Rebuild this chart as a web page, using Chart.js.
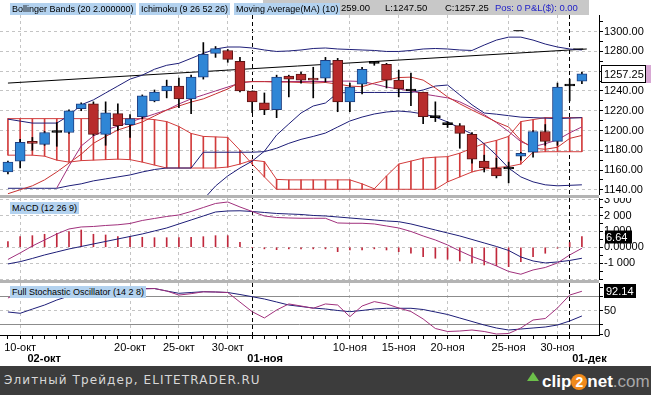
<!DOCTYPE html>
<html>
<head>
<meta charset="utf-8">
<script src="https://cdn.jsdelivr.net/npm/chart.js@4.4.0/dist/chart.umd.min.js"></script>
<style>
body { margin: 0; width: 651px; height: 395px; overflow: hidden; position: relative; background: #fff; font-family: "Liberation Sans", Arial, sans-serif; }
.pane { position: absolute; left: 0; width: 651px; }
.sep { position: absolute; left: 0; width: 599px; height: 3px; background: #b4b4b4; }
.lbl { position: absolute; height: 12px; line-height: 12px; font-size: 9px; background: #b3d2ef; color: #000; padding: 0 2px; white-space: nowrap; }
#info { position: absolute; left: 263px; top: 0; width: 326px; height: 15px; background: #c8c8c8; font-size: 9.5px; line-height: 16px; white-space: nowrap; }
#footer { position: absolute; left: 0; top: 366px; width: 651px; height: 29px; background: #3c3c3c; }
#footer .ft { position: absolute; left: 4px; top: 7px; font-family: "DejaVu Sans", sans-serif; font-size: 12px; letter-spacing: 1.1px; color: #d8d8d8; }
#logo { position: absolute; left: 527px; top: 6px; height: 18px; font-family: "Liberation Sans", Arial, sans-serif; font-weight: bold; font-size: 17px; line-height: 18px; color: #fff; white-space: nowrap; }
#logo .arr { display: inline-block; width: 0; height: 0; border-left: 6px solid transparent; border-right: 6px solid transparent; border-bottom: 9px solid #6cc04a; vertical-align: 6px; margin-right: 3px; }
#logo .two { display: inline-block; width: 16px; height: 16px; border-radius: 8px; background: #f08a1c; text-align: center; line-height: 16px; font-size: 14px; }
#logo .com { color: #a8a8a8; font-weight: normal; }
</style>
</head>
<body>
<div class="pane" style="top:0;height:195px"><canvas id="priceChart"></canvas></div>
<div class="sep" style="top:195px"></div>
<div class="pane" style="top:198px;height:82px"><canvas id="macdChart"></canvas></div>
<div class="sep" style="top:280px"></div>
<div class="pane" style="top:283px;height:83px"><canvas id="stochChart"></canvas></div>

<div id="info"><span style="position:absolute;left:78px">259.00</span><span style="position:absolute;left:122px">L:1247.50</span><span style="position:absolute;left:182px">C:1257.25</span><span style="position:absolute;left:232px;color:#2323c8">Pos: 0 P&amp;L($): 0.00</span></div>
<div class="lbl" style="left:10px;top:3px">Bollinger Bands (20 2.000000)</div>
<div class="lbl" style="left:139px;top:3px">Ichimoku (9 26 52 26)</div>
<div class="lbl" style="left:234px;top:3px">Moving Average(MA) (10)</div>
<div class="lbl" style="left:10px;top:202px">MACD (12 26 9)</div>
<div class="lbl" style="left:10px;top:286px">Full Stochastic Oscillator (14 2 8)</div>

<div id="footer">
  <span class="ft">Элитный Трейдер, ELITETRADER.RU</span>
  <span id="logo"><span class="arr"></span>clip<span class="two">2</span>net<span class="com">.com</span></span>
</div>

<script>
// --- свечи (индекс 0 = 09-окт, по одной свече на торговый день, включая воскресные сессии)
const opens  = [1158,1169,1189,1186,1199,1198,1222,1227,1196,1217,1206,1214,1230,1240,1245,1232,1254,1278,1281,1270,1240,1228,1221,1255,1257,1253,1253,1271,1229,1247,1268,1267,1251,1241,1239,1214,1207,1205,1196,1169,1162,1162,1174,1178,1199,1189,1245,1250];
const highs  = [1169,1191,1193,1199,1208,1221,1228,1229,1229,1227,1216,1236,1241,1251,1253,1256,1289,1285,1282,1274,1240,1238,1256,1256,1259,1264,1274,1273,1248,1264,1270,1268,1261,1258,1239,1229,1209,1207,1198,1175,1172,1168,1178,1200,1206,1248,1252,1259];
const lows   = [1156,1162,1180,1185,1184,1197,1220,1195,1185,1200,1193,1212,1229,1233,1223,1217,1252,1274,1269,1239,1218,1216,1213,1234,1248,1233,1249,1219,1219,1237,1266,1243,1234,1225,1207,1209,1203,1182,1167,1158,1152,1147,1170,1173,1185,1185,1230,1247.5];
const closes = [1168,1188,1187,1198,1198,1220,1227,1196,1218,1205,1212,1235,1239,1245,1232,1254,1277,1283,1272,1240,1229,1221,1254,1252,1251,1251,1271,1229,1244,1262,1268,1251,1242,1240,1214,1213,1206,1197,1171,1162,1154,1161,1177,1199,1189,1244,1245,1257.25];

// --- индикаторы на графике цены
const bbUpper = [1211.5,1209.5,1207.5,1207.5,1207.5,1215,1226,1231,1238,1245,1252,1256,1262,1266,1268,1273,1278,1282.5,1284.5,1284.5,1283.5,1281.5,1280,1280.5,1281.5,1283,1283.5,1282.5,1282,1281.5,1281,1280,1280,1281,1282.5,1283,1282.5,1281.5,1281,1286.5,1291.5,1294.5,1294.5,1291.5,1287.5,1284.5,1282.5,1281.5];
const bbLower = [1141.5,1141.5,1141.5,1141.5,1141.5,1144,1146,1149,1151,1153,1155,1158,1160.5,1162,1162,1162,1178,1178,1178,1178,1178,1178.6,1182,1187,1191,1194,1197.4,1203.5,1209.6,1213.6,1216.7,1218.7,1219.7,1218.7,1216.7,1213.6,1208.6,1202.5,1196.5,1186.5,1175,1162,1153,1148,1145,1144,1144.5,1145];
const kijun = [null,null,null,null,null,null,null,null,null,null,null,null,null,null,null,null,1130,1143.8,1154,1162,1169,1179,1195.4,1206.6,1217.7,1224.8,1227.8,1238,1238.5,1238.5,1238.5,1238.5,1238.5,1238.5,1241,1245,1246,1236,1226,1217.7,1216.5,1215,1213.5,1213,1212.5,1212,1212.5,1213];
const tenkan = [null,null,null,null,1141.8,1164,1184.3,1194.4,1200.5,1204.5,1208.6,1212.6,1216.7,1220.7,1226.8,1232,1236,1240,1244,1248,1249.6,1249.6,1249.6,1249.6,1249.6,1249.6,1249.6,1250,1250,1249.6,1247,1244,1242,1240,1237,1235,1233,1229,1223,1216,1208,1199,1188.7,1183.6,1186.6,1190.6,1197.6,1203.6];
const ma10 = [1136,1140,1144,1150,1158,1167,1176,1187,1194,1200.5,1204.5,1208.6,1214.7,1220.7,1224.8,1228.8,1232,1237,1242,1249,1249.4,1249.4,1249,1249,1248.6,1248,1248.6,1247,1245,1244.3,1248,1251,1253.6,1254,1251,1243,1234,1227,1220.7,1214.7,1208.6,1203.5,1190,1182,1181,1183,1192,1195];
const kumoA = [1212,1212,1212,1212,1212,1212,1212,1212,1212,1212,1212,1212,1211,1209,1204,1197,1194,1193.5,1193,1180,1166,1153,1140.5,1140.5,1140.5,1140.5,1140.5,1140.5,1140.5,1140.5,1140.5,1140.5,1140.5,1140.5,1140.5,1140.5,1148,1153,1158,1161,1162.5,1163.5,1166,1178,1178.5,1178.5,1178.5,1178.5];
const kumoB = [1175,1175,1175,1174,1170,1168,1169.5,1170,1170.5,1171,1170.5,1168,1165,1162,1162,1162,1162,1162,1163,1166,1170,1168.5,1150.5,1150,1150,1150,1150,1150,1150,1146,1141,1154,1166,1169,1172,1173,1173.5,1177,1182,1187,1190,1194,1209,1211,1213,1213,1213,1213];
const trendX = [0, 47.4];
const trendY = [1248, 1282.5];
const markX  = [41.8, 46.7];
const markY  = [1301, 1282.5];

// --- MACD (12 26 9)
const macdLine   = [-767,-358,82,459,836,1151,1277,1308,1371,1415,1497,1686,1812,1937,2032,2252,2503,2755,2849,2535,2252,1969,1874,1843,1824,1824,1824,1528,1510,1510,1466,1340,1214,994,711,459,145,-233,-579,-862,-1176,-1522,-1698,-1428,-1271,-988,-484,-63];
const macdSignal = [-1050,-906,-704,-484,-296,-107,50,208,365,522,679,837,1025,1214,1466,1717,1969,2220,2283,2296,2252,2189,2126,2095,2063,2000,1969,1906,1843,1780,1717,1654,1610,1466,1277,1088,899,711,491,270,50,-201,-610,-862,-988,-925,-830,-692];
const macdHist   = [350,667,730,818,880,981,1088,818,774,667,667,629,603,603,603,629,667,730,730,314,-20,-100,-150,-100,-100,-100,-100,-276,-170,-170,-100,-170,-276,-377,-591,-692,-755,-862,-1006,-1113,-1157,-1220,-906,-591,-377,-60,300,667];

// --- Full Stochastic (14 2 8)
const stochK = [77.7,90,88,92,95,97,96,92,94,95,96,97,98,92.7,84,87,91,90.6,89.5,69,48.4,35,52,65,60.6,55.7,65,62.7,37.7,60.6,70,65,56.3,48.8,32.8,12.4,6,7,9.2,6,0.6,1.7,13.5,30.6,33.8,56.3,84,92.14];
const stochD = [47.8,45,54,62.7,73.4,82,88,92.7,94.9,96,97,98,98,92.7,87.8,89.5,91.2,90.6,89.5,85.2,80.5,75.6,69.2,62.7,59.5,56.3,54.2,51,48.4,51,54.2,55.7,55.7,55.7,53.1,47.8,42.4,34.9,27.4,19.9,13.5,9.2,11.3,13.5,15.6,19.9,28.5,39.2];
const stochLevels = [20, 80];

// --- подписи оси времени
const tickIdx  = [1, 10, 14, 18, 28, 32, 36, 41, 45];
const tickText = ['10-окт', '20-окт', '25-окт', '30-окт', '10-ноя', '15-ноя', '20-ноя', '25-ноя', '30-ноя'];
const monthIdx = [20, 46];
const boldAt   = [1.6, 19.6, 46.2];
const boldText = ['02-окт', '01-ноя', '01-дек'];
const priceTicks = [1140,1150,1160,1170,1180,1190,1200,1210,1220,1230,1240,1250,1260,1270,1280,1290,1300,1310];
const macdTicks  = [-2000,-1500,-1000,-500,0,500,1000,1500,2000,2500,3000];
const stochTicks = [0, 20, 50, 80, 100];

const FONT = '"Liberation Sans", Arial, sans-serif';
Chart.defaults.font.family = FONT;
Chart.defaults.color = '#000';

const X_MIN = -0.65, X_MAX = 48.4;
const NAVY = '#1e1e78', RED = '#c83232', PURPLE = '#a0307c', KUMO = '#d23c3c';
const GRID = '#c4c4c4';

const pts = arr => arr.map((v, i) => v == null ? null : { x: i, y: v }).filter(p => p);

function gridColor(c) {
    const v = c.tick ? c.tick.value : null;
    if (monthIdx.includes(v)) return '#000';
    if (tickIdx.includes(v)) return GRID;
    return 'rgba(0,0,0,0)';
}

function xAxis(showLabels) {
    return {
        type: 'linear', min: X_MIN, max: X_MAX, offset: false,
        afterBuildTicks: s => { s.ticks = closes.map((c, i) => ({ value: i })); },
        afterFit: s => { s.height = showLabels ? 17 : 0; s.paddingLeft = 0; s.paddingRight = 0; },
        grid: { offset: false, color: gridColor, drawTicks: showLabels, tickLength: 4, tickColor: '#000' },
        border: { display: showLabels, color: '#000', dash: c => (c.tick && monthIdx.includes(c.tick.value)) ? [4, 3] : [3, 3] },
        ticks: {
            display: showLabels, autoSkip: false, maxRotation: 0, padding: 2,
            font: { size: 11 },
            callback: v => { const k = tickIdx.indexOf(v); return k >= 0 ? tickText[k] : ''; }
        }
    };
}

function yAxis(min, max, ticks, labelFn, gridFn, dashFn) {
    return {
        position: 'right', min: min, max: max,
        afterBuildTicks: s => { s.ticks = ticks.map(v => ({ value: v })); },
        afterFit: s => { s.width = 52; s.paddingTop = 0; s.paddingBottom = 0; },
        grid: { color: gridFn, tickColor: '#000', tickLength: 4 },
        border: { color: '#000', dash: dashFn || [3, 3] },
        ticks: { font: { size: 11 }, padding: 1, autoSkip: false, callback: labelFn }
    };
}

// ярлыки значений справа от оси
const tagPlugin = {
    id: 'tag',
    afterDraw(chart, args, opts) {
        const ctx = chart.ctx, ys = chart.scales.y;
        (opts.items || []).forEach(t => {
            const y = Math.round(ys.getPixelForValue(t.value));
            const x = chart.chartArea.right + t.dx;
            ctx.save();
            ctx.fillStyle = t.bg;
            ctx.fillRect(x, y - t.h / 2, t.w, t.h);
            if (t.border) {
                ctx.strokeStyle = t.border; ctx.lineWidth = 1;
                ctx.strokeRect(x + 0.5, y - t.h / 2 + 0.5, t.w - 1, t.h - 1);
            }
            if (t.text) {
                ctx.fillStyle = t.fg; ctx.font = t.font; ctx.textBaseline = 'middle'; ctx.textAlign = 'left';
                ctx.fillText(t.text, x + t.tx, y + 1);
            }
            ctx.restore();
        });
    }
};

function baseOptions(scales, tags, padTop) {
    return {
        responsive: true, maintainAspectRatio: false, animation: false, events: [],
        layout: { padding: { top: padTop || 0, left: 0, right: 0, bottom: 0 }, autoPadding: false },
        scales: scales,
        plugins: { legend: { display: false }, tooltip: { enabled: false }, tag: { items: tags } }
    };
}

function line(arr, color, order, extra) {
    return Object.assign({ type: 'line', data: pts(arr), borderColor: color, borderWidth: 1, pointRadius: 0, tension: 0, fill: false, order: order }, extra || {});
}

// --- график цены
const bodyColor = closes.map((c, i) => Math.abs(c - opens[i]) <= 1 ? '#000' : (c > opens[i] ? '#2f86d6' : '#b82c2c'));
const bodyEdge  = closes.map((c, i) => Math.abs(c - opens[i]) <= 1 ? '#000' : (c > opens[i] ? '#1f3f80' : '#5a1414'));

const priceCtx = document.getElementById('priceChart');
new Chart(priceCtx, {
    type: 'bar',
    data: {
        datasets: [
            { type: 'bar', data: closes.map((c, i) => ({ x: i, y: [opens[i], c] })), backgroundColor: bodyColor, borderColor: bodyEdge, borderWidth: 1, borderSkipped: false, barThickness: 10, minBarLength: 2, grouped: false, order: 1 },
            { type: 'bar', data: closes.map((c, i) => ({ x: i, y: [lows[i], highs[i]] })), backgroundColor: '#000', borderWidth: 0, barThickness: 1, grouped: false, order: 2 },
            line(ma10, RED, 3),
            line(tenkan, PURPLE, 4),
            line(kijun, NAVY, 5),
            line(bbUpper, NAVY, 6),
            line(bbLower, NAVY, 7),
            { type: 'line', data: trendX.map((x, k) => ({ x: x, y: trendY[k] })), borderColor: '#000', borderWidth: 1, pointRadius: 0, order: 8 },
            { type: 'line', data: markX.map((x, k) => ({ x: x, y: markY[k] })), showLine: false, pointStyle: 'line', pointRadius: 5, pointBorderColor: '#000', pointBorderWidth: 1, order: 0 },
            line(kumoA, KUMO, 9),
            line(kumoB, KUMO, 10),
            { type: 'bar', data: kumoA.map((a, i) => ({ x: i, y: [a, kumoB[i]] })), backgroundColor: KUMO, borderWidth: 0, barThickness: 1, grouped: false, order: 11 }
        ]
    },
    options: baseOptions({
        x: xAxis(false),
        y: yAxis(1134.7, 1316.9, priceTicks, v => v % 20 === 0 ? v.toFixed(2) : '',
            c => (c.tick && c.tick.value % 20 === 0) ? GRID : 'rgba(0,0,0,0)')
    }, [
        { value: closes[closes.length - 1], dx: 2, w: 45, h: 18, bg: '#fff', border: '#000', fg: '#000', font: '11px ' + FONT, text: '1257.25', tx: 3 },
        { value: closes[closes.length - 1], dx: 47, w: 6, h: 18, bg: '#d8a8d4' }
    ], 15),
    plugins: [tagPlugin]
});

// --- MACD
const macdCtx = document.getElementById('macdChart');
new Chart(macdCtx, {
    type: 'bar',
    data: {
        datasets: [
            line(macdLine, PURPLE, 1),
            line(macdSignal, NAVY, 2),
            { type: 'bar', data: pts(macdHist), backgroundColor: '#c0283c', borderWidth: 0, barThickness: 1, grouped: false, order: 3 }
        ]
    },
    options: baseOptions({
        x: xAxis(false),
        y: yAxis(-2060, 3100, macdTicks,
            v => v === 0 ? '0.00000' : (v % 1000 === 0 && v > -2000 ? (v / 1000) + ' 000' : ''),
            c => (c.tick && c.tick.value % 1000 === 0) ? GRID : 'rgba(0,0,0,0)')
    }, [
        { value: macdHist[macdHist.length - 1], dx: 6, w: 27, h: 13, bg: '#000', fg: '#fff', font: '11px ' + FONT, text: '6.64', tx: 1 }
    ]),
    plugins: [tagPlugin]
});

// --- Stochastic
const stochCtx = document.getElementById('stochChart');
new Chart(stochCtx, {
    type: 'line',
    data: {
        datasets: [
            line(stochK, PURPLE, 1),
            line(stochD, NAVY, 2)
        ]
    },
    options: baseOptions({
        x: xAxis(true),
        x2: {
            type: 'linear', position: 'bottom', min: X_MIN, max: X_MAX, offset: false, weight: 1,
            afterBuildTicks: s => { s.ticks = boldAt.map(v => ({ value: v })); },
            afterFit: s => { s.height = 14; s.paddingLeft = 0; s.paddingRight = 0; },
            grid: { display: false, drawTicks: false },
            border: { display: false },
            ticks: { autoSkip: false, maxRotation: 0, align: 'start', padding: 0, font: { size: 11, weight: 'bold' },
                callback: v => { const k = boldAt.indexOf(v); return k >= 0 ? boldText[k] : ''; } }
        },
        y: yAxis(-1.5, 109.85, stochTicks,
            v => (v === 0 || v === 50) ? String(v) : '',
            c => { const v = c.tick ? c.tick.value : null; return stochLevels.includes(v) ? '#8c8c8c' : (v === 50 ? GRID : 'rgba(0,0,0,0)'); },
            c => (c.tick && stochLevels.includes(c.tick.value)) ? [] : [3, 3])
    }, [
        { value: stochK[stochK.length - 1], dx: 5, w: 32, h: 14, bg: '#000', fg: '#fff', font: '11px ' + FONT, text: '92.14', tx: 2 }
    ]),
    plugins: [tagPlugin]
});
</script>
</body>
</html>
